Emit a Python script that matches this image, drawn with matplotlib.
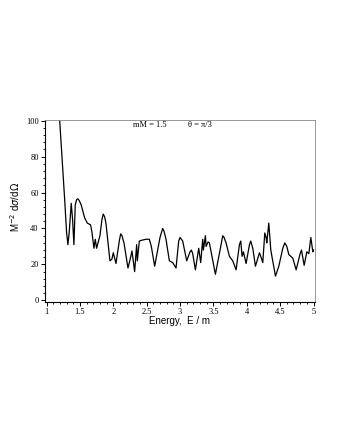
import numpy as np
import matplotlib.pyplot as plt
from matplotlib.ticker import MultipleLocator

## Daten
energie = [1.18, 1.27, 1.30, 1.32, 1.34, 1.37, 1.39, 1.41, 1.43, 1.45, 1.47, 1.49, 1.52, 1.57, 1.61,
           1.66, 1.68, 1.71, 1.73, 1.75, 1.80, 1.83, 1.85, 1.87, 1.89, 1.95, 1.98, 2.00, 2.04,
           2.09, 2.11, 2.13, 2.16, 2.22, 2.26, 2.28, 2.32, 2.35, 2.36, 2.39, 2.43, 2.49, 2.54,
           2.57, 2.62, 2.70, 2.74, 2.76, 2.79, 2.84, 2.89, 2.94, 2.98, 3.00, 3.04, 3.10, 3.15,
           3.17, 3.19, 3.23, 3.28, 3.31, 3.34, 3.35, 3.38, 3.39, 3.42, 3.44, 3.53, 3.61, 3.64,
           3.66, 3.69, 3.74, 3.79, 3.84, 3.89, 3.91, 3.93, 3.95, 3.99, 4.04, 4.06, 4.09, 4.13,
           4.19, 4.21, 4.24, 4.27, 4.29, 4.30, 4.33, 4.36, 4.43, 4.48, 4.54, 4.57, 4.60, 4.63,
           4.69, 4.74, 4.80, 4.82, 4.86, 4.90, 4.93, 4.96, 4.99, 5.00]
sigma = [110, 57, 38, 31, 38, 54, 45, 31, 53, 56, 56.5, 55.5, 53, 46, 43,
         42, 38, 29, 34, 29, 36, 45, 48, 46.5, 43, 22, 23, 26.5, 20.5,
         33, 37, 36, 32, 18, 24, 27.5, 16, 31, 22, 33, 33.5, 34, 34,
         30, 19, 35, 40, 38.5, 34, 22, 21, 18, 33, 35, 33, 22, 27,
         28, 26, 17, 29, 21, 34, 28, 36, 30, 32.5, 32, 14.5, 30, 36,
         35, 32, 24.5, 22, 17, 31, 33, 24.5, 27, 20.5, 31, 33, 29, 19,
         26.5, 24.5, 21, 37.5, 35, 32, 43, 28, 13.5, 19, 29, 32, 30, 25.5,
         23.5, 17, 26, 28, 19.5, 27, 26, 35, 27, 28]

## Plotten
fig = plt.figure(figsize=(3.4, 4.4), dpi=100)
ax = fig.add_axes([0.132, 0.314, 0.794, 0.414])

ax.plot(energie, sigma, c='black', lw=0.9)

ax.set_xlim([0.975, 5.02])
ax.set_ylim([-0.8, 100.5])

ax.xaxis.set_major_locator(MultipleLocator(0.5))
ax.xaxis.set_minor_locator(MultipleLocator(0.1))
ax.yaxis.set_major_locator(MultipleLocator(20))
ax.yaxis.set_minor_locator(MultipleLocator(4))
ax.set_xticks([1, 1.5, 2, 2.5, 3, 3.5, 4, 4.5, 5])
ax.set_xticklabels(['1', '1.5', '2', '2.5', '3', '3.5', '4', '4.5', '5'])

ax.tick_params(which='major', direction='out', length=3, width=0.7, labelsize=6, pad=1.5)
ax.tick_params(which='minor', direction='out', length=1.5, width=0.6)
for lab in ax.get_xticklabels() + ax.get_yticklabels():
    lab.set_family('Liberation Serif')

ax.spines['top'].set_color('#888888')
ax.spines['right'].set_color('#888888')
ax.spines['top'].set_linewidth(0.6)
ax.spines['right'].set_linewidth(0.6)
ax.spines['left'].set_linewidth(0.8)
ax.spines['bottom'].set_linewidth(0.8)

ax.set_xlabel('Energy,  E / m', family='Liberation Sans', fontsize=7, labelpad=0)
ax.set_ylabel(r'M$^{-2}$ d$\sigma$/d$\Omega$', family='Liberation Sans', fontsize=7)
ax.yaxis.set_label_coords(-0.085, 0.52)

ax.text(2.54, 97.6, 'mM = 1.5', family='Liberation Serif', fontsize=6, ha='center', va='center')
ax.text(3.3, 97.6, 'θ = π/3', family='Liberation Serif', fontsize=6, ha='center', va='center')

## Output
fig.savefig('out.png', dpi=100)
